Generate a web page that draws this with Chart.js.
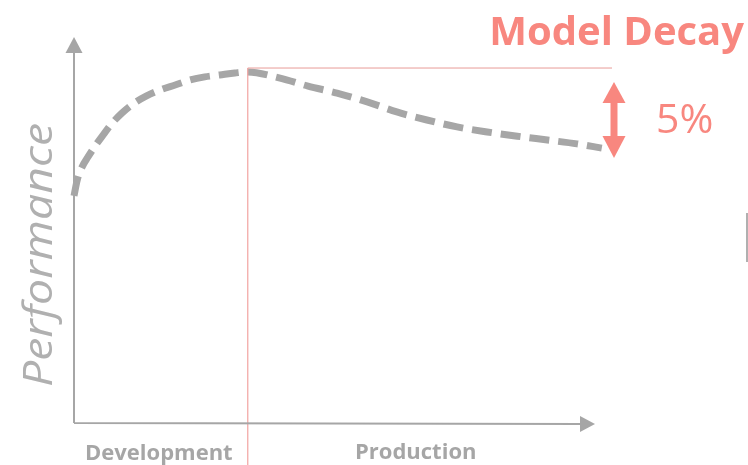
<!DOCTYPE html>
<html>
<head>
<meta charset="utf-8">
<script src="https://cdn.jsdelivr.net/npm/chart.js@4.4.1/dist/chart.umd.min.js"></script>
<style>
  html, body { margin: 0; padding: 0; background: #ffffff; }
  #wrap { width: 748px; height: 465px; }
</style>
</head>
<body>
<div id="wrap"><canvas id="c" width="748" height="465"></canvas></div>
<script>
// Performance over time: development ramp-up, peak, then decay in production
const timeSteps = [0, 0.6, 1.5, 2.6, 3.9, 5.4, 7.1, 8.9, 11.0, 13.4, 16.0, 18.8, 21.6, 24.3, 27.1, 29.9, 32.2,
                   38.3, 43.5, 48.9, 54.5, 60.0, 65.6, 71.2, 76.8, 82.4, 88.0, 93.5, 98.1];
const performance = [59.0, 63.1, 66.5, 69.1, 71.9, 74.8, 77.9, 80.5, 82.9, 84.9, 86.5, 87.8, 89.1, 89.9, 90.4, 90.9, 91.2,
                     89.6, 87.5, 85.7, 83.4, 80.8, 78.7, 76.9, 75.6, 74.5, 73.5, 72.5, 71.4];

// Deployment moment and the peak reference level
const deployX = [32.3, 32.3];
const deployY = [92.2, -11];
const peakX = [32.3, 100];
const peakY = [92.2, 92.2];

const phaseLabels = ['Development', 'Production'];
const titleText = 'Model Decay';
const decayText = '5%';
const axisTitle = 'Performance';

const GREY = '#a6a6a6';
const SALMON = '#f8877f';
const REDLINE = '#f2a3a0';

const toPoints = (xs, ys) => xs.map((x, i) => ({ x: x, y: ys[i] }));

const decorations = {
  id: 'decorations',
  afterDraw(chart) {
    const ctx = chart.ctx;
    const a = chart.chartArea;
    const xs = chart.scales.x, ys = chart.scales.y;
    ctx.save();

    // axes with arrow heads
    ctx.strokeStyle = GREY;
    ctx.fillStyle = GREY;
    ctx.lineWidth = 2;
    ctx.beginPath();
    ctx.moveTo(a.left, a.bottom);
    ctx.lineTo(a.left, a.top + 14);
    ctx.moveTo(a.left, a.bottom);
    ctx.lineTo(a.left + 507, a.bottom + 1);
    ctx.stroke();
    ctx.beginPath();
    ctx.moveTo(a.left, a.top - 1);
    ctx.lineTo(a.left - 8.5, a.top + 15);
    ctx.lineTo(a.left + 8.5, a.top + 15);
    ctx.closePath();
    ctx.fill();
    ctx.beginPath();
    ctx.moveTo(a.left + 521, a.bottom + 1);
    ctx.lineTo(a.left + 506, a.bottom - 7);
    ctx.lineTo(a.left + 506, a.bottom + 9);
    ctx.closePath();
    ctx.fill();

    // decay double arrow
    const ax = xs.getPixelForValue(100) + 2;
    const top = ys.getPixelForValue(peakY[0]) + 14;
    const bot = ys.getPixelForValue(performance[performance.length - 1]) + 10;
    ctx.fillStyle = SALMON;
    ctx.strokeStyle = SALMON;
    ctx.lineWidth = 7;
    ctx.beginPath();
    ctx.moveTo(ax, top + 18);
    ctx.lineTo(ax, bot - 18);
    ctx.stroke();
    ctx.beginPath();
    ctx.moveTo(ax, top);
    ctx.lineTo(ax - 11.5, top + 21);
    ctx.lineTo(ax + 11.5, top + 21);
    ctx.closePath();
    ctx.fill();
    ctx.beginPath();
    ctx.moveTo(ax, bot);
    ctx.lineTo(ax - 11.5, bot - 22);
    ctx.lineTo(ax + 11.5, bot - 22);
    ctx.closePath();
    ctx.fill();

    // title and decay figure
    ctx.fillStyle = SALMON;
    ctx.textBaseline = 'alphabetic';
    ctx.textAlign = 'right';
    ctx.font = 'bold 40px "Open Sans", sans-serif';
    ctx.fillText(titleText, 744, 45);
    ctx.textAlign = 'left';
    ctx.font = '41px "Open Sans", sans-serif';
    ctx.fillText(decayText, 656, 133);

    // phase labels under the time axis
    ctx.fillStyle = GREY;
    ctx.font = 'bold 22px "Open Sans", sans-serif';
    ctx.fillText(phaseLabels[0], 85, 460);
    ctx.fillText(phaseLabels[1], 355, 459);

    // vertical axis title
    ctx.fillStyle = '#b0b0b0';
    ctx.font = 'italic 40px "Open Sans", sans-serif';
    const w = ctx.measureText(axisTitle).width;
    ctx.translate(52, 387);
    ctx.rotate(-Math.PI / 2);
    ctx.scale(264 / w, 1);
    ctx.fillText(axisTitle, 0, 0);
    ctx.setTransform(1, 0, 0, 1, 0, 0);

    // small grey edge mark at the right border
    ctx.strokeStyle = '#b0b0b0';
    ctx.lineWidth = 2;
    ctx.beginPath();
    ctx.moveTo(747, 213);
    ctx.lineTo(747, 262);
    ctx.stroke();

    ctx.restore();
  }
};

new Chart(document.getElementById('c'), {
  type: 'line',
  data: {
    datasets: [
      {
        data: toPoints(peakX, peakY),
        borderColor: '#e89b98',
        borderWidth: 1,
        pointRadius: 0,
        clip: false
      },
      {
        data: toPoints(deployX, deployY),
        borderColor: REDLINE,
        borderWidth: 1.2,
        pointRadius: 0,
        clip: false
      },
      {
        data: toPoints(timeSteps, performance),
        borderColor: GREY,
        borderWidth: 7,
        borderDash: [20, 9],
        borderCapStyle: 'butt',
        cubicInterpolationMode: 'monotone',
        pointRadius: 0,
        clip: false
      }
    ]
  },
  options: {
    responsive: false,
    animation: false,
    layout: { padding: { left: 74, right: 136, top: 38, bottom: 42 } },
    plugins: { legend: { display: false }, tooltip: { enabled: false } },
    scales: {
      x: { type: 'linear', min: 0, max: 100, display: false },
      y: { type: 'linear', min: 0, max: 100, display: false }
    }
  },
  plugins: [decorations]
});
</script>
</body>
</html>
